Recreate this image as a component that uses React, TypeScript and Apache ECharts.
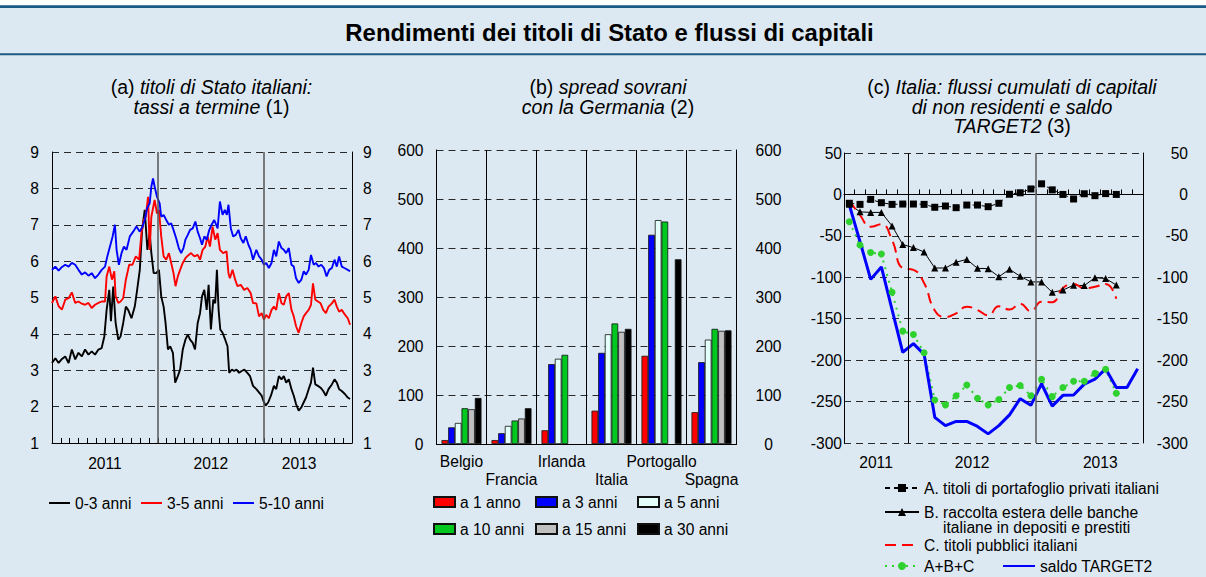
import React, { useEffect, useRef } from 'react';
import * as echarts from 'echarts';

const FONT = '"Liberation Sans", Arial, Helvetica, sans-serif';
const BG = '#dde9f2';
const HEAD = '#1b5a85';
const AX = 15.6;

// ---------- Panel (a): yields, x = months since Jan 2011 ----------
const yield03: number[][] = [
  [0,3.2],[0.38,3.33],[0.75,3.2],[1.13,3.31],[1.5,3.38],[1.88,3.2],[2.25,3.57],[2.63,3.3],[3.0,3.48],[3.38,3.38],[3.75,3.57],[4.13,3.43],[4.5,3.52],[4.88,3.43],[5.26,3.57],[5.63,3.61],[5.93,3.93],[6.19,4.66],[6.49,5.21],[6.68,4.35],[6.94,5.3],[7.21,4.3],[7.51,3.84],[7.77,3.93],[8.07,4.3],[8.37,4.75],[8.63,4.66],[9.01,4.43],[9.38,4.75],[9.65,5.21],[9.95,5.76],[10.21,6.86],[10.51,7.41],[10.81,6.31],[11.07,6.77],[11.26,6.22],[11.52,5.67],
  [11.82,5.67],[12.12,5.76],[12.38,5.03],[12.65,4.75],[12.87,4.3],[13.14,3.57],[13.4,3.66],[13.7,3.48],[13.96,2.66],[14.26,2.84],[14.52,3.02],[14.82,3.57],[15.12,3.84],[15.39,3.98],[15.65,3.84],[15.95,3.75],[16.21,3.57],[16.51,4.3],[16.78,4.57],[17.0,5.03],[17.26,5.21],[17.53,4.66],[17.75,5.35],[18.01,4.12],[18.28,4.94],[18.5,4.84],[18.69,5.76],[18.88,4.66],[19.07,4.12],[19.33,4.03],[19.63,3.84],[19.89,3.66],[20.08,2.93],[20.38,3.02],[20.64,2.98],[20.91,3.02],[21.2,2.93],[21.5,2.98],[21.8,3.02],[22.14,2.93],[22.44,2.84],[22.78,2.57],
  [23.16,2.48],[23.46,2.39],[23.76,2.3],[24.02,2.12],[24.21,2.03],[24.51,2.12],[24.81,2.3],[25.15,2.57],[25.41,2.48],[25.71,2.84],[26.01,2.75],[26.27,2.84],[26.54,2.66],[26.84,2.75],[27.14,2.48],[27.4,2.3],[27.66,2.07],[27.96,1.89],[28.26,1.98],[28.53,2.12],[28.79,2.25],[29.09,2.48],[29.35,2.66],[29.58,3.07],[29.84,2.61],[30.14,2.57],[30.44,2.52],[30.74,2.43],[31.04,2.3],[31.34,2.48],[31.72,2.61],[32.02,2.75],[32.28,2.66],[32.54,2.48],[32.84,2.43],[33.22,2.34],[33.52,2.25],[33.78,2.21]
];
const yield35: number[][] = [
  [0,4.85],[0.38,5.03],[0.75,4.76],[1.13,4.67],[1.5,4.94],[1.88,4.98],[2.25,5.14],[2.63,4.85],[3.0,4.89],[3.38,4.83],[3.75,4.8],[4.13,4.85],[4.5,4.71],[4.88,4.8],[5.26,4.85],[5.63,4.89],[6.01,4.89],[6.19,5.58],[6.49,5.85],[6.79,5.49],[7.06,5.72],[7.21,5.03],[7.51,4.85],[7.77,4.89],[8.07,4.98],[8.37,5.49],[8.75,5.9],[9.12,5.9],[9.5,6.13],[9.87,6.04],[10.14,6.77],[10.4,7.13],[10.62,7.22],[10.89,7.77],[11.07,6.31],[11.26,7.22],
  [11.63,7.68],[11.9,7.31],[12.12,7.41],[12.38,6.68],[12.65,6.13],[12.95,6.04],[13.25,6.22],[13.51,5.95],[13.77,5.67],[14.0,5.31],[14.26,5.58],[14.52,5.76],[14.82,5.95],[15.12,6.08],[15.39,6.15],[15.76,6.22],[16.14,6.13],[16.51,6.17],[16.78,6.04],[17.07,6.31],[17.38,6.4],[17.64,6.68],[17.9,6.4],[18.2,6.95],[18.5,6.59],[18.77,6.77],[19.03,6.31],[19.4,6.22],[19.78,6.27],[20.0,5.67],[20.16,5.53],[20.46,5.76],[20.76,5.49],[21.02,5.31],[21.39,5.35],[21.77,5.21],[22.14,5.26],[22.52,5.12],[22.78,4.85],
  [23.16,4.84],[23.46,4.48],[23.76,4.57],[24.02,4.39],[24.28,4.52],[24.58,4.43],[24.88,4.66],[25.15,4.75],[25.41,4.66],[25.71,5.12],[26.01,4.84],[26.27,4.8],[26.54,5.03],[26.84,5.12],[27.14,4.66],[27.4,4.48],[27.66,4.21],[27.96,4.03],[28.26,4.3],[28.53,4.48],[28.79,4.57],[29.09,4.66],[29.35,4.8],[29.58,5.39],[29.84,4.94],[30.14,4.89],[30.44,4.84],[30.74,4.66],[31.04,4.57],[31.34,4.75],[31.72,4.84],[32.02,4.94],[32.28,4.75],[32.54,4.61],[32.84,4.66],[33.22,4.52],[33.52,4.43],[33.78,4.25]
];
const yield510: number[][] = [
  [0,5.76],[0.38,5.85],[0.75,5.74],[1.13,5.84],[1.5,5.9],[1.88,5.85],[2.25,5.95],[2.63,5.9],[3.0,5.76],[3.38,5.63],[3.75,5.69],[4.13,5.6],[4.5,5.67],[4.88,5.53],[5.26,5.63],[5.63,5.76],[6.01,5.85],[6.27,6.13],[6.57,6.4],[6.87,6.68],[7.13,7.0],[7.32,6.31],[7.58,5.9],[7.88,6.22],[8.15,6.4],[8.45,6.31],[8.82,6.68],[9.2,6.81],[9.57,6.95],[9.95,6.81],[10.25,6.95],[10.51,7.13],[10.77,7.45],[11.07,7.59],[11.26,8.05],[11.45,8.27],
  [11.63,8.05],[11.9,7.77],[12.2,7.59],[12.38,7.22],[12.65,7.27],[12.95,7.13],[13.25,7.0],[13.51,7.04],[13.77,6.86],[14.07,6.63],[14.37,6.36],[14.64,6.22],[14.9,6.36],[15.12,6.59],[15.39,6.72],[15.65,6.86],[15.95,6.9],[16.25,7.09],[16.51,6.81],[16.78,6.63],[17.0,6.45],[17.26,6.68],[17.53,6.59],[17.83,6.86],[18.09,7.0],[18.39,7.13],[18.77,6.9],[19.03,7.64],[19.33,7.27],[19.59,7.41],[19.82,7.27],[20.0,7.55],[20.27,6.9],[20.53,6.68],[20.83,6.72],[21.13,6.86],[21.39,6.63],[21.69,6.5],[21.96,6.68],[22.26,6.45],[22.52,6.31],[22.78,6.04],
  [23.16,6.31],[23.46,6.13],[23.76,6.04],[24.02,5.9],[24.28,5.95],[24.58,5.81],[24.88,5.95],[25.15,6.31],[25.41,6.13],[25.71,6.54],[26.01,6.36],[26.27,6.31],[26.54,6.22],[26.84,6.36],[27.14,5.9],[27.4,5.85],[27.66,5.53],[27.96,5.4],[28.26,5.49],[28.53,5.72],[28.79,5.63],[29.09,5.76],[29.35,6.17],[29.66,5.9],[29.92,5.95],[30.21,5.85],[30.52,5.9],[30.82,5.81],[31.12,5.58],[31.42,5.76],[31.72,5.81],[32.02,6.04],[32.28,5.85],[32.54,6.13],[32.84,5.85],[33.14,5.81],[33.52,5.76],[33.78,5.72]
];
const yearTicksA: Record<number, string> = { 6: '2011', 18: '2012', 28: '2013' };
const yearBreaksA = [12, 24];

// ---------- Panel (b): spreads ----------
const countries = ['Belgio', 'Francia', 'Irlanda', 'Italia', 'Portogallo', 'Spagna'];
const spread1 = [8, 8, 28, 68, 180, 65];
const spread3 = [34, 22, 163, 186, 427, 167];
const spread5 = [43, 37, 174, 224, 457, 213];
const spread10 = [73, 48, 182, 246, 454, 235];
const spread15 = [71, 52, null, 229, null, 231];
const spread30 = [94, 73, null, 235, 377, 232];

// ---------- Panel (c): monthly flows from Jul 2011 ----------
const flowA = [-10.7, -12, -6, -10, -12, -11.6, -11.6, -12, -15.5, -14, -16, -12.8, -12.8, -14.8, -10.7, 0.2, 2, 6.6, 12.8, 5.5, 0, -5.5, 0.8, -1.5, 1, 0];
const flowB = [-12, -21, -21.7, -21.7, -38, -60.5, -64.2, -69.4, -88.8, -88.8, -81.8, -78.4, -89.2, -89.6, -99.3, -90.3, -98.8, -105.6, -105.6, -118.2, -115.4, -109.6, -110, -100.5, -101.5, -109.4];
const flowC = [-7, -25, -39, -36, -55, -89, -91, -107, -140, -148, -143.5, -135.5, -139.5, -146, -135, -139, -132, -141, -129.5, -130, -113, -108, -113, -111.5, -108, -126];
const flowABC = [-33, -61, -70, -72, -118, -165, -169, -191, -248, -254, -243, -230, -246, -254, -247.5, -233, -230.5, -243, -223, -244, -233, -225.5, -225.5, -216, -211, -240];
const target2 = [-12.8, -57, -102.5, -87.5, -139, -190.5, -180, -193, -269, -279, -274, -274, -280, -289, -279, -266, -246.5, -254.5, -228.5, -255.5, -242.5, -242, -229, -223, -210.5, -233, -233, -210.5];
const yearTicksC: Record<number, string> = { 3: '2011', 12: '2012', 24: '2013' };
const yearBreaksC = [6, 18];

const txt = { color: '#000', fontSize: AX, fontFamily: FONT };
const dashed = { show: true, lineStyle: { color: '#2a2a2a', width: 1, type: [7, 5] as any } };
const axLine = { show: true, lineStyle: { color: '#000', width: 1 } };

const monthly = (arr: (number | null)[]) => arr.map((v, i) => [i + 0.5, v]);

function buildOption(): any {
  const grids = [
    { left: 52, top: 152, width: 300, height: 291 },
    { left: 436.5, top: 150, width: 300, height: 294 },
    { left: 844, top: 153, width: 299, height: 290 },
  ];
  const xAxis = [
    {
      type: 'value', gridIndex: 0, min: 0, max: 34, interval: 1,
      axisLine: axLine, axisTick: { show: true, inside: true, length: 5, lineStyle: { color: '#000' } },
      axisLabel: { ...txt, margin: 12, formatter: (v: number) => yearTicksA[v] || '' },
      splitLine: { show: false },
    },
    {
      type: 'category', gridIndex: 1, data: countries, boundaryGap: true,
      axisLine: axLine, axisTick: { show: false },
      axisLabel: { ...txt, interval: 0, margin: 8, lineHeight: 18, formatter: (v: string, i: number) => (i % 2 ? '\n' + v : v) },
      splitLine: { show: true, interval: 0, lineStyle: { color: '#000', width: 1 } },
    },
    {
      type: 'value', gridIndex: 2, min: 0, max: 28, interval: 1,
      axisLine: axLine, axisTick: { show: true, inside: true, length: 5, lineStyle: { color: '#000' } },
      axisLabel: { ...txt, margin: 11, formatter: (v: number) => yearTicksC[v] || '' },
      splitLine: { show: false },
    },
  ];
  const yAxis = [
    { type: 'value', gridIndex: 0, min: 1, max: 9, interval: 1, axisLine: axLine, axisTick: { show: false }, axisLabel: { ...txt, margin: 13 }, splitLine: dashed },
    { type: 'value', gridIndex: 0, position: 'right', min: 1, max: 9, interval: 1, axisLine: axLine, axisTick: { show: false }, axisLabel: { ...txt, margin: 11 }, splitLine: { show: false } },
    { type: 'value', gridIndex: 1, min: 0, max: 600, interval: 100, axisLine: axLine, axisTick: { show: false }, axisLabel: { ...txt, margin: 13 }, splitLine: dashed },
    { type: 'value', gridIndex: 1, position: 'right', min: 0, max: 600, interval: 100, axisLine: axLine, axisTick: { show: false }, axisLabel: { ...txt, margin: 32, align: 'center' }, splitLine: { show: false } },
    { type: 'value', gridIndex: 2, min: -300, max: 50, interval: 50, axisLine: axLine, axisTick: { show: false }, axisLabel: { ...txt, margin: 2 }, splitLine: dashed },
    { type: 'value', gridIndex: 2, position: 'right', min: -300, max: 50, interval: 50, axisLine: axLine, axisTick: { show: false }, axisLabel: { ...txt, margin: 45, align: 'right' }, splitLine: { show: false } },
  ];

  const vlines = (vals: number[], styles: any[]) => ({
    silent: true, symbol: ['none', 'none'], label: { show: false },
    data: vals.map((v, k) => ({ xAxis: v, lineStyle: styles[k] })),
  });

  const lineA = (name: string, data: number[][], color: string, extra: any = {}) => ({
    name, type: 'line', xAxisIndex: 0, yAxisIndex: 0, data, symbol: 'none',
    lineStyle: { color, width: 1.9 }, itemStyle: { color }, ...extra,
  });

  const barS = (name: string, data: (number | null)[], color: string) => ({
    name, type: 'bar', xAxisIndex: 1, yAxisIndex: 2, data: data.map((v) => (v == null ? '-' : v)),
    barGap: '0%', barCategoryGap: '20%',
    itemStyle: { color, borderColor: '#111', borderWidth: 0.8 },
  });

  const series: any[] = [
    lineA('0-3 anni', yield03, '#000000', {
      markLine: vlines(yearBreaksA, [
        { color: '#555', width: 1.5, type: 'solid' },
        { color: '#555', width: 1.5, type: 'solid' },
      ]),
    }),
    lineA('3-5 anni', yield35, '#ff0000'),
    lineA('5-10 anni', yield510, '#0000ff'),
    barS('a 1 anno', spread1, '#ff0000'),
    barS('a 3 anni', spread3, '#0000ff'),
    barS('a 5 anni', spread5, '#e2fffa'),
    barS('a 10 anni', spread10, '#00c81e'),
    barS('a 15 anni', spread15, '#c0c0c0'),
    barS('a 30 anni', spread30, '#000000'),
    {
      name: 'A. titoli di portafoglio privati italiani', type: 'line', xAxisIndex: 2, yAxisIndex: 4,
      data: monthly(flowA), symbol: 'rect', symbolSize: 7,
      itemStyle: { color: '#000' }, lineStyle: { color: '#000', width: 1, type: [5, 4] },
      markLine: vlines(yearBreaksC, [
        { color: '#000', width: 1, type: 'solid' },
        { color: '#666', width: 1.6, type: 'solid' },
      ]),
    },
    {
      name: 'B. raccolta estera delle banche', type: 'line', xAxisIndex: 2, yAxisIndex: 4,
      data: monthly(flowB), symbol: 'triangle', symbolSize: 7,
      itemStyle: { color: '#000' }, lineStyle: { color: '#000', width: 1 },
    },
    {
      name: 'C. titoli pubblici italiani', type: 'line', xAxisIndex: 2, yAxisIndex: 4,
      data: monthly(flowC), symbol: 'none', smooth: true,
      itemStyle: { color: '#ff0000' }, lineStyle: { color: '#ff0000', width: 2, type: [11, 6] },
    },
    {
      name: 'A+B+C', type: 'line', xAxisIndex: 2, yAxisIndex: 4,
      data: monthly(flowABC), symbol: 'circle', symbolSize: 7,
      itemStyle: { color: '#2fd12f' }, lineStyle: { color: '#2fd12f', width: 2, type: [2, 5] },
    },
    {
      name: 'saldo TARGET2', type: 'line', xAxisIndex: 2, yAxisIndex: 4,
      data: monthly(target2), symbol: 'none',
      itemStyle: { color: '#0000ff' }, lineStyle: { color: '#0000ff', width: 3 },
    },
  ];

  const lg = (name: string, left: number, top: number, w: number, h: number, extra: any = {}) => ({
    data: [name], left, top, itemWidth: w, itemHeight: h, padding: 0, selectedMode: false,
    orient: 'horizontal', textStyle: { ...txt }, ...extra,
  });
  const noSym = { itemStyle: { opacity: 0 } };

  const legend = [
    lg('0-3 anni', 48, 495, 21, 12, noSym),
    lg('3-5 anni', 140, 495, 21, 12, noSym),
    lg('5-10 anni', 232, 495, 21, 12, noSym),
    lg('a 1 anno', 433, 494, 21, 10, { icon: 'rect' }),
    lg('a 3 anni', 535, 494, 21, 10, { icon: 'rect' }),
    lg('a 5 anni', 637, 494, 21, 10, { icon: 'rect' }),
    lg('a 10 anni', 433, 521, 21, 10, { icon: 'rect' }),
    lg('a 15 anni', 535, 521, 21, 10, { icon: 'rect' }),
    lg('a 30 anni', 637, 521, 21, 10, { icon: 'rect' }),
    lg('A. titoli di portafoglio privati italiani', 884, 480, 34, 10),
    lg('B. raccolta estera delle banche', 884, 504, 34, 10),
    lg('C. titoli pubblici italiani', 884, 537, 34, 10, noSym),
    lg('A+B+C', 884, 558, 34, 10),
    lg('saldo TARGET2', 1002, 558, 32, 10, noSym),
  ];

  const SF = 19.5;
  const SLH = 18;
  const it = { fontSize: SF, fontFamily: FONT, fontStyle: 'italic', fill: '#000', lineHeight: SLH };
  const nm = { fontSize: SF, fontFamily: FONT, fontStyle: 'normal', fill: '#000', lineHeight: SLH };
  const lineYs = [87, 106.5, 126];
  const sub = (x: number, lines: string[]) =>
    lines.map((text, k) => ({
      type: 'text', x, y: lineYs[k], silent: true,
      style: { text, align: 'center', verticalAlign: 'middle', fontSize: SF, fontFamily: FONT, fill: '#000', lineHeight: SLH, rich: { i: it, n: nm } },
    }));

  const graphic = [
    { type: 'rect', shape: { x: 0, y: 0, width: 1206, height: 5.5 }, style: { fill: '#ffffff' }, silent: true },
    { type: 'line', shape: { x1: 0, y1: 6.7, x2: 1206, y2: 6.7 }, style: { stroke: HEAD, lineWidth: 2.7 }, silent: true },
    { type: 'line', shape: { x1: 0, y1: 54.3, x2: 1206, y2: 54.3 }, style: { stroke: HEAD, lineWidth: 2 }, silent: true },
    {
      type: 'text', x: 609.5, y: 32, silent: true,
      style: { text: 'Rendimenti dei titoli di Stato e flussi di capitali', align: 'center', verticalAlign: 'middle', fontSize: 23.9, fontWeight: 'bold', fontFamily: FONT, fill: '#000' },
    },
    ...sub(211.5, ['{n|(a) }{i|titoli di Stato italiani:}', '{i|tassi a termine}{n| (1)}']),
    ...sub(608, ['{n|(b) }{i|spread sovrani}', '{i|con la Germania}{n| (2)}']),
    ...sub(1012, ['{n|(c) }{i|Italia: flussi cumulati di capitali}', '{i|di non residenti e saldo}', '{i|TARGET2}{n| (3)}']),
    {
      type: 'text', x: 943, y: 527, silent: true,
      style: { text: 'italiane in depositi e prestiti', align: 'left', verticalAlign: 'middle', fontSize: AX, fontFamily: FONT, fill: '#000' },
    },
  ];

  return {
    animation: false,
    backgroundColor: BG,
    textStyle: { fontFamily: FONT },
    grid: grids,
    xAxis,
    yAxis,
    series,
    legend,
    graphic,
  };
}

export default function App() {
  const ref = useRef<HTMLDivElement>(null);
  useEffect(() => {
    if (!ref.current) return;
    const chart = echarts.init(ref.current, null, { renderer: 'svg', width: 1206, height: 577 });
    chart.setOption(buildOption());
    return () => chart.dispose();
  }, []);
  return <div ref={ref} style={{ position: 'fixed', left: 0, top: 0, width: 1206, height: 577 }} />;
}
